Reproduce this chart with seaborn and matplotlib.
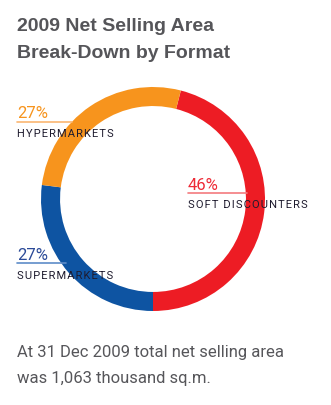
import matplotlib
matplotlib.use("Agg")
import matplotlib.pyplot as plt
import seaborn as sns
from matplotlib.lines import Line2D

# ---- data ----
segments = ["SOFT DISCOUNTERS", "SUPERMARKETS", "HYPERMARKETS"]
shares = [46, 27, 27]
seg_colors = ["#ED1C24", "#0E54A2", "#F7941D"]
line_colors = ["#F47A7E", "#5E8CC8", "#FBB672"]
pct_colors = ["#EE2A36", "#2B4A98", "#F7941D"]
pct_labels = ["46%", "27%", "27%"]
title_lines = ["2009 Net Selling Area", "Break-Down by Format"]
footer_lines = ["At 31 Dec 2009 total net selling area", "was 1,063 thousand sq.m."]

sns.set_theme(style="white")
plt.rcParams["font.family"] = ["Liberation Sans", "DejaVu Sans"]

W, H = 331, 406
fig = plt.figure(figsize=(W / 100, H / 100), dpi=100)
fig.patch.set_facecolor("white")

def fx(x):
    return x / W

def fy(y):
    return 1 - y / H

# donut: center (153, 200), outer radius 112 px
cx, cy, r = 153, 200, 112
ax = fig.add_axes([fx(cx - r), fy(cy + r), 2 * r / W, 2 * r / H])
ax.pie(shares, colors=seg_colors, startangle=75.6, counterclock=False, radius=1.0,
       wedgeprops=dict(width=0.17, edgecolor="none", linewidth=0))
ax.set_xlim(-1, 1)
ax.set_ylim(-1, 1)
ax.set_aspect("equal")
ax.axis("off")

# title
for i, t in enumerate(title_lines):
    fig.text(fx(17), fy(31 + 26.5 * i), t, fontsize=14, fontweight="bold",
             color="#555559", va="baseline", ha="left")

# labels: (x, pct baseline, line y, line x-end, label baseline)
pos = {
    "SOFT DISCOUNTERS": (188, 190, 193.5, 247, 208),
    "SUPERMARKETS": (17, 260, 264, 66, 279),
    "HYPERMARKETS": (17, 118, 122.5, 72, 137),
}
for seg, pct, col, pcol, lcol in zip(segments, pct_labels, seg_colors, pct_colors, line_colors):
    x, pb, ly, lx2, lb = pos[seg]
    fig.text(fx(x), fy(pb), pct, fontsize=12, color=pcol,
             va="baseline", ha="left", family=["Roboto", "DejaVu Sans"], fontweight="normal")
    fig.add_artist(Line2D([fx(x), fx(lx2)], [fy(ly), fy(ly)], color=lcol, lw=1.2,
                          transform=fig.transFigure, zorder=0.5))
    fig.text(fx(x), fy(lb), "\u200a".join(seg), fontsize=8, color="#1E1B2E",
             va="baseline", ha="left", family=["Roboto", "DejaVu Sans"], zorder=5)

for i, t in enumerate(footer_lines):
    fig.text(fx(17), fy(357 + 26.5 * i), t, fontsize=12, color="#56565A",
             va="baseline", ha="left", family=["Liberation Sans Narrow", "Roboto"])

fig.savefig("out.png", dpi=100, facecolor="white")
